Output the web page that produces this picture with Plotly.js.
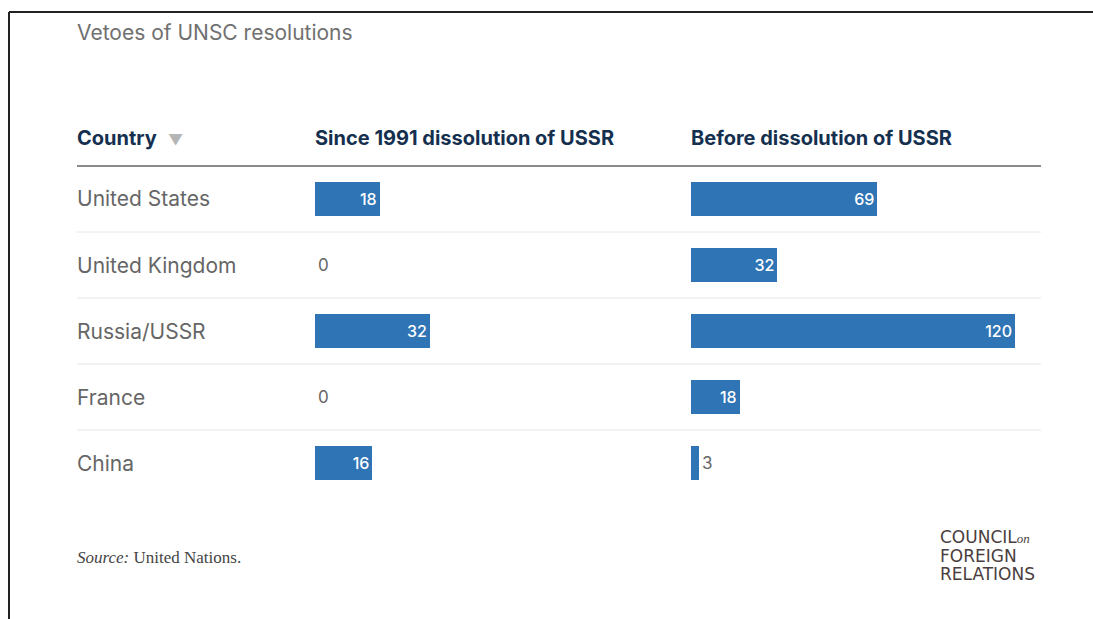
<!DOCTYPE html>
<html>
<head>
<meta charset="utf-8">
<script src="https://cdn.plot.ly/plotly-3.0.1.min.js"></script>
<style>html,body{margin:0;padding:0;background:#fff;}#chart{width:1093px;height:619px;}</style>
</head>
<body>
<div id="chart"></div>
<script>
const chartTitle = 'Vetoes of UNSC resolutions';
const countries = ['United States', 'United Kingdom', 'Russia/USSR', 'France', 'China'];
const since1991 = [18, 0, 32, 0, 16];
const beforeDissolution = [69, 32, 120, 18, 3];
const headers = ['Country', 'Since 1991 dissolution of USSR', 'Before dissolution of USSR'];
const sourceText = '<i>Source:</i> United Nations.';
const logoLines = ['COUNCIL<i><span style="font-size:13px;font-family:\'Liberation Serif\',serif">on</span></i>', 'FOREIGN', 'RELATIONS'];

const W = 1093, H = 619;
const px = x => x / W;
const py = y => 1 - y / H;
const BAR = '#2f74b5';
const NAVY = '#15304f';
const GREY = '#666666';
const FONT = 'Inter, Roboto, sans-serif';

function barTrace(vals, xa) {
  return {
    type: 'bar', orientation: 'h',
    x: vals, y: countries,
    xaxis: xa, yaxis: 'y',
    width: 0.52,
    marker: {color: BAR, line: {width: 0}},
    text: vals.map(String),
    textposition: vals.map(v => v >= 10 ? 'inside' : 'outside'),
    insidetextanchor: 'end',
    insidetextfont: {family: FONT, size: 16, color: '#ffffff', weight: 500},
    outsidetextfont: {family: FONT, size: 17, color: '#666666'},
    constraintext: 'none',
    cliponaxis: false,
    hoverinfo: 'skip'
  };
}

const data = [barTrace(since1991, 'x'), barTrace(beforeDissolution, 'x2')];

const annotations = [];
countries.forEach(c => annotations.push({
  xref: 'paper', yref: 'y', x: px(75), y: c, xanchor: 'left', yanchor: 'middle',
  text: c, showarrow: false, font: {family: FONT, size: 21, color: GREY}
}));
const headerX = [75, 313, 689];
headers.forEach((h, i) => annotations.push({
  xref: 'paper', yref: 'paper', x: px(headerX[i]), y: py(138), xanchor: 'left', yanchor: 'middle',
  text: '<b>' + h + '</b>' + (i === 0 ? '  <span style="color:#b5b5b5;font-size:15px">▼</span>' : ''),
  showarrow: false, font: {family: FONT, size: 20, color: NAVY}
}));
annotations.push({
  xref: 'paper', yref: 'paper', x: px(75), y: py(557), xanchor: 'left', yanchor: 'middle',
  text: sourceText, showarrow: false,
  font: {family: '"Liberation Serif", "DejaVu Serif", serif', size: 17, color: '#444444'}
});
[537, 556, 574].forEach((y, i) => annotations.push({
  xref: 'paper', yref: 'paper', x: px(938), y: py(y), xanchor: 'left', yanchor: 'middle',
  text: logoLines[i], showarrow: false, align: 'left',
  font: {family: '"DejaVu Sans", sans-serif', size: 17, color: '#4a3e3e'}
}));

const shapes = [
  {type: 'line', xref: 'paper', yref: 'paper', x0: px(9), x1: 1, y0: py(12), y1: py(12), line: {color: '#222', width: 2}},
  {type: 'line', xref: 'paper', yref: 'paper', x0: px(9), x1: px(9), y0: py(12), y1: 0, line: {color: '#222', width: 2}},
  {type: 'line', xref: 'paper', yref: 'paper', x0: px(77), x1: px(1041), y0: py(166), y1: py(166), line: {color: '#8a8a8a', width: 2}}
];
[232, 298, 364, 430].forEach(y => shapes.push(
  {type: 'line', xref: 'paper', yref: 'paper', x0: px(77), x1: px(1041), y0: py(y), y1: py(y), line: {color: '#e6e6e6', width: 1}}
));

const layout = {
  width: W, height: H,
  margin: {l: 0, r: 0, t: 0, b: 0},
  paper_bgcolor: '#ffffff', plot_bgcolor: 'rgba(0,0,0,0)',
  showlegend: false,
  title: {text: chartTitle, x: px(77), xanchor: 'left', xref: 'paper', y: py(33), yanchor: 'middle',
          font: {family: FONT, size: 21, color: '#707070'}},
  xaxis: {domain: [px(315), px(665)], range: [0, 350 / 3.59], visible: false, fixedrange: true},
  xaxis2: {domain: [px(691), px(1041)], range: [0, 350 / 2.70], visible: false, fixedrange: true, anchor: 'y'},
  yaxis: {domain: [py(496), py(166)], type: 'category', range: [4.5, -0.5], visible: false, fixedrange: true},
  annotations: annotations,
  shapes: shapes,
  bargap: 0
};

Plotly.newPlot('chart', data, layout, {displayModeBar: false, staticPlot: true});
</script>
</body>
</html>
